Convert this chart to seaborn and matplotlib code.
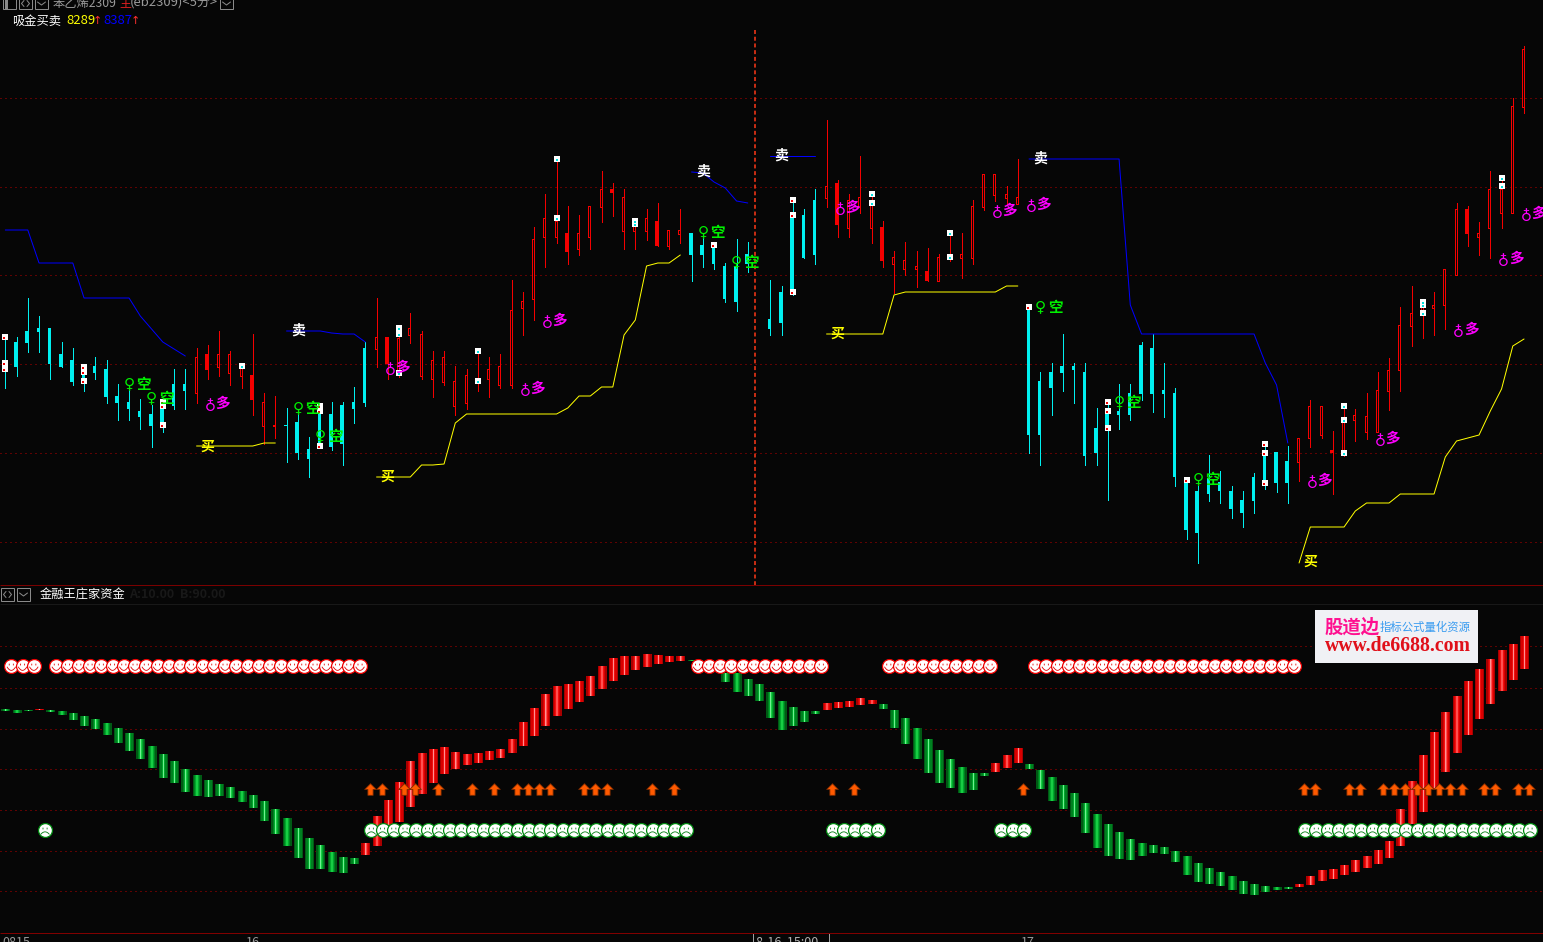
import numpy as np
import pandas as pd
import matplotlib
matplotlib.use("Agg")
import matplotlib.pyplot as plt
from matplotlib.path import Path
from matplotlib.patches import Rectangle
import seaborn as sns

# ---- values (vertical unit: chart rows, axis runs downward) ----
candle_high = [340,337,298,316,328,342,348,368,357,360,384,387,399,405,402,369,369,348,345,331,351,366,334,393,396,408,410,437,405,402,402,387,342,
    298,337,335,313,331,351,351,366,369,352,357,354,280,292,227,194,160,206,215,206,171,183,189,223,209,203,230,209,233,233,245,263,239,242,np.nan,
    280,286,200,209,189,120,180,194,156,197,221,251,242,251,248,254,236,233,200,174,174,186,159,307,372,363,334,363,363,408,403,384,384,342,334,363,388,480,486,455,471,486,491,473,445,452,446,
    438,400,406,431,408,409,393,372,358,307,286,303,292,269,203,206,222,171,181,98,46]
candle_low = [388,376,352,352,379,367,385,391,379,403,420,420,429,447,432,409,409,403,379,376,385,388,415,444,438,462,459,477,448,450,465,423,406,
    367,379,377,343,379,397,385,415,409,391,397,388,388,335,320,267,243,264,255,249,222,216,249,249,240,246,249,243,281,267,269,302,311,272,np.nan,
    335,335,295,258,264,207,237,237,213,243,267,293,275,287,281,281,261,278,264,210,201,205,204,453,465,415,391,403,465,465,500,429,420,400,412,417,486,539,563,501,503,518,527,513,489,492,503,
    481,447,438,494,456,441,439,432,410,391,346,338,335,329,275,246,255,258,228,213,113]
body_top = [363,342,331,328,328,354,360,372,366,369,396,402,411,414,405,384,384,357,354,354,354,366,375,402,425,425,422,449,414,414,405,402,348,
    337,337,338,328,334,360,357,381,375,381,369,366,310,301,239,218,221,233,233,206,189,189,197,225,218,221,230,230,233,245,245,266,266,254,np.nan,
    319,292,215,215,200,186,183,200,197,203,227,257,260,266,271,257,257,254,206,174,174,194,197,308,381,372,366,366,372,428,412,411,393,345,348,390,393,480,491,478,482,491,500,477,452,452,461,
    438,406,406,450,420,415,416,390,370,325,313,305,305,269,209,209,233,189,189,106,49]
body_bot = [372,367,343,332,364,367,382,384,373,397,403,409,417,426,423,406,391,393,370,367,373,376,400,426,426,426,453,459,444,447,444,409,403,
    349,364,372,335,376,379,382,406,403,383,379,385,385,308,299,237,237,252,249,237,207,193,231,231,231,246,246,234,255,255,264,299,302,264,np.nan,
    329,323,290,258,255,198,225,228,207,228,261,264,269,269,281,281,259,258,258,207,195,198,204,435,435,388,373,370,456,453,428,415,415,394,394,394,477,530,533,494,491,509,513,501,481,483,483,
    462,438,435,453,453,420,432,432,391,370,326,311,308,305,275,234,237,228,213,213,107]
cyan_ranges = [(0,16),(25,32),(61,66),(68,72),(91,114)]
red_solid_bars = [18,22,34,50,54,58,74,78,82,118,130]

osc_top = [709,710,710,709,710,711,713,716,719,723,728,733,739,746,754,761,769,775,780,784,787,791,795,801,809,818,828,838,845,852,857,858,
    843,816,800,782,761,753,749,747,752,754,753,751,749,739,722,708,694,686,684,681,676,666,658,656,656,654,655,656,656,
    660,661,663,673,673,679,684,692,701,707,711,711,703,702,701,698,700,704,710,718,728,739,750,759,767,773,773,
    763,755,748,764,770,777,785,793,803,814,824,832,839,843,845,847,851,856,863,868,872,876,881,884,886,887,887,
    884,876,870,869,865,860,856,850,841,809,781,755,732,712,696,681,669,659,650,644,636]
osc_bot = [711,713,711,710,712,715,720,726,729,735,743,751,759,768,778,783,792,796,797,796,798,802,808,821,834,846,858,869,869,872,873,864,
    855,846,825,822,807,794,783,774,769,765,763,760,758,753,746,736,726,716,709,702,696,689,681,675,670,667,664,662,661,
    661,664,669,682,692,696,701,718,730,726,722,714,710,708,707,705,704,709,728,744,759,773,783,788,793,790,776,
    772,768,763,769,789,801,809,817,833,848,856,859,860,856,853,854,862,875,882,884,886,890,894,895,892,890,889,
    887,885,881,879,875,872,868,864,858,846,824,812,789,772,753,735,719,704,691,680,669]
osc_red_ranges = [(3,3),(32,60),(73,77),(88,90),(115,135)]

smile_ranges = [(0,2),(4,31),(61,72),(78,87),(91,114)]
frown_ranges = [(3,3),(32,60),(73,77),(88,90),(115,135)]
arrow_bars = [32,33,35,36,38,41,43,45,46,47,48,51,52,53,57,59,73,75,90,115,116,119,120,122,123,124,125,126,127,128,129,131,132,134,135]

blue_segments = {
    0:  [230,230,230,263,263,263,263,298,298,298,298,298,316,329,342,349,356],
    25: [331,331,331,331,333,334,334,342],
    61: [172,173,182,188,201,203],
    68: [156,156,156,156,156],
    91: [159]*9 + [305] + [334]*11 + [363,385,443],
}
yellow_segments = {
    17:  [446]*6 + [443,443],
    33:  [477]*4 + [465,465,464,423] + [414]*9 + [408,396,396,387,387,335,320,266,263,263,255],
    73:  [334]*6 + [295] + [292]*9 + [286,286],
    115: [563] + [527]*4 + [511,503,503,503,494,494,494,494,457,441,438,435,411,389,346,339],
}
sell_bars, sell_vals = [26,62,69,92], [331,172,156,159]
buy_bars, buy_vals = [18,34,74,116], [447,477,334,562]
short_bars = [11,13,26,28,62,65,92,99,106]
short_vals = [384,398,408,436,232,262,307,402,479]
long_bars = [18,34,46,48,74,88,91,116,122,129,133,135]
long_vals = [403,367,388,320,207,210,204,480,438,329,258,213]
dot_bars_cyan = [0,0,0,7,7,7,14,14,14,28,28,28,63,70,70,70,91,98,98,98,105,112,112,112]
dot_vals_cyan = [337,363,369,367,372,381,402,406,425,406,411,446,245,200,215,292,307,402,411,428,480,444,453,483]
dot_bars_red = [21,35,35,35,42,42,49,49,56,56,77,77,84,84,119,119,119,126,126,126,133,133]
dot_vals_red = [366,328,334,373,351,381,159,218,221,224,194,203,233,257,406,420,453,302,305,313,178,186]
grid_upper = [97.7,186.5,275,363.5,452.7,541.7]
grid_lower = [645.7,687.7,728.7,769.3,810.3,851.3,891.3]
cursor_bar = 66.64
time_labels = ["0815","16","17"]
header_values = ["8289","8387"]

# ---- layout ----
W, H = 1543, 942
SPLIT = 585
BG = "#060606"
BAR = 11.25                 # pixels per bar
PX = 1 / BAR
X0 = -5.3 / BAR
X1 = (W - 5.3) / BAR
LW = 0.72

sns.set_theme(style="dark", rc={"axes.facecolor": BG, "figure.facecolor": BG, "savefig.facecolor": BG})
CJK = ["Noto Sans CJK SC", "DejaVu Sans"]
plt.rcParams["font.family"] = CJK

fig = plt.figure(figsize=(W / 100, H / 100), dpi=100)
ax = fig.add_axes([0, (H - SPLIT) / H, 1, SPLIT / H])
ax2 = fig.add_axes([0, 0, 1, (H - SPLIT) / H])
chrome = fig.add_axes([0, 0, 1, 1], facecolor="none")
chrome.set_xlim(0, W); chrome.set_ylim(H, 0); chrome.axis("off")

ax.set_xlim(X0, X1); ax.set_ylim(SPLIT, 0)
ax2.set_xlim(X0, X1); ax2.set_ylim(H, SPLIT)
for a in (ax, ax2):
    a.set_xticks([]); a.set_yticks([]); a.grid(False)
    for s in a.spines.values():
        s.set_visible(False)

dots = (0, (1, 4))
ax.hlines(grid_upper, X0, X1, colors="#b80000", linewidth=LW, linestyles=[dots], zorder=1)
ax2.hlines(grid_lower, X0, X1, colors="#b80000", linewidth=LW, linestyles=[dots], zorder=1)
ax.vlines([cursor_bar], 30, SPLIT, colors="#ff3818", linewidth=1.1, linestyles=[(0, (2.6, 1.8))], zorder=2)

# ---- candles ----
bars = np.arange(136)
hi, lo, bt, bb = map(lambda v: np.array(v, float), (candle_high, candle_low, body_top, body_bot))
kind = np.array(["h"] * 136)
for a, b in cyan_ranges:
    kind[a:b + 1] = "c"
kind[red_solid_bars] = "s"
col = np.where(kind == "c", "#00f0f0", "#f40000")
ok = ~np.isnan(hi)
solid = ok & (kind != "h")
ax.bar(bars[solid] - PX, (bb - bt)[solid], bottom=bt[solid], width=3 * PX, color=col[solid],
       linewidth=0, antialiased=False, zorder=4)
hol = ok & (kind == "h")
ax.bar(bars[hol] - PX, (bb - bt)[hol], bottom=bt[hol], width=2 * PX, facecolor=BG, edgecolor="#f40000",
       linewidth=LW, antialiased=False, zorder=3)
ax.vlines(bars[ok], hi[ok], lo[ok], colors=col[ok], linewidth=LW, antialiased=False, zorder=4)

# ---- small white signal squares ----
ax.scatter(np.array(dot_bars_cyan), dot_vals_cyan, marker="s", s=14, c="white", linewidths=0, zorder=5)
ax.scatter(np.array(dot_bars_cyan) - PX, np.array(dot_vals_cyan) + 1.2, marker="s", s=3, c="#f00000", linewidths=0, zorder=6)
ax.scatter(np.array(dot_bars_red), dot_vals_red, marker="s", s=14, c="white", linewidths=0, zorder=5)
ax.scatter(np.array(dot_bars_red), np.array(dot_vals_red) + 1.2, marker="s", s=3, c="#00e0e0", linewidths=0, zorder=6)

# ---- stop lines ----
def seg_frame(segments):
    rows = []
    for start, vals in segments.items():
        for k, v in enumerate(vals):
            rows.append({"bar": start + k, "val": v, "seg": start})
    return pd.DataFrame(rows)

sns.lineplot(data=seg_frame(blue_segments), x="bar", y="val", units="seg", estimator=None, color="#0000ff",
             linewidth=LW, ax=ax, legend=False, zorder=5)
sns.lineplot(data=seg_frame(yellow_segments), x="bar", y="val", units="seg", estimator=None, color="#ffff00",
             linewidth=LW, ax=ax, legend=False, zorder=5)
ax.set_xlim(X0, X1); ax.set_ylim(SPLIT, 0); ax.set_xlabel(""); ax.set_ylabel("")

# ---- signal glyphs ----
for b, v in zip(sell_bars, sell_vals):
    ax.text(b, v, "卖", color="white", fontsize=10, fontweight="bold", ha="center", va="center", zorder=7)
for b, v in zip(buy_bars, buy_vals):
    ax.text(b, v, "买", color="#ffff00", fontsize=10, fontweight="bold", ha="center", va="center", zorder=7)
for b, v in zip(short_bars, short_vals):
    ax.text(b, v, "♀", color="#00f000", fontsize=11, family=["DejaVu Sans"], fontweight="bold", ha="center", va="center", zorder=7)
    ax.annotate("空", (b, v), xytext=(10.6, 0), textcoords="offset points", color="#00f000", fontsize=10.5,
                fontweight="bold", ha="center", va="center", zorder=7)
for b, v in zip(long_bars, long_vals):
    ax.text(b, v, "♀", color="#ff00ff", fontsize=11, family=["DejaVu Sans"], fontweight="bold", rotation=180,
            rotation_mode="anchor", ha="center", va="center", zorder=7)
    ax.annotate("多", (b, v), xytext=(10.6, 0), textcoords="offset points", color="#ff00ff", fontsize=10.5,
                fontweight="bold", ha="center", va="center", zorder=7)

# ---- oscillator bars with a bright central stripe ----
ot, ob = np.array(osc_top, float), np.array(osc_bot, float)
up = np.zeros(136, bool)
for a, b in osc_red_ranges:
    up[a:b + 1] = True
RED_L = ["#a80000", "#d80000", "#f01010", "#ff5050", "#ff9090"]
GRN_L = ["#005a14", "#007f20", "#00a82c", "#18cc44", "#70f090"]
WIDTHS = [9, 6.5, 3.5, 1.6, 0.7]
for w, cr, cg in zip(WIDTHS, RED_L, GRN_L):
    ax2.bar(bars[up] + 0.5 * PX, (ob - ot)[up], bottom=ot[up], width=w * PX, color=cr, linewidth=0, zorder=3)
    ax2.bar(bars[~up] + 0.5 * PX, (ob - ot)[~up], bottom=ot[~up], width=w * PX, color=cg, linewidth=0, zorder=3)

# ---- arrows ----
arrow = Path([(0, 1), (1, 0), (0.45, 0), (0.45, -1), (-0.45, -1), (-0.45, 0), (-1, 0), (0, 1)], closed=True)
ax2.scatter(np.array(arrow_bars) + 5 * PX, [789] * len(arrow_bars), marker=arrow, s=70, c="#ff5a00",
            edgecolors="#7a2a00", linewidths=0.6, zorder=4)

# ---- faces ----
def expand(ranges):
    return np.concatenate([np.arange(a, b + 1) for a, b in ranges])

t = np.linspace(-0.6, 0.6, 9)
eyes = [(-0.28, 0.32), (-0.28, 0.08), (0.28, 0.32), (0.28, 0.08)]
eye_codes = [Path.MOVETO, Path.LINETO, Path.MOVETO, Path.LINETO]
smile_v = eyes + [(x, -0.1 - 0.5 * (1 - (x / 0.6) ** 2)) for x in t]
frown_v = eyes + [(x, -0.6 + 0.35 * (1 - (x / 0.6) ** 2)) for x in t]
curve_codes = [Path.MOVETO] + [Path.LINETO] * 8
smile_m = Path(smile_v, eye_codes + curve_codes)
frown_m = Path(frown_v, eye_codes + curve_codes)

sx = expand(smile_ranges) + 6 * PX
fx = expand(frown_ranges) + 6 * PX
ax2.scatter(sx, [666] * len(sx), s=100, c="white", edgecolors="#f00000", linewidths=0.9, zorder=6)
ax2.scatter(sx, [666] * len(sx), marker=smile_m, s=40, facecolors="none", edgecolors="#e00000", linewidths=0.6, zorder=7)
ax2.scatter(fx, [830] * len(fx), s=100, c="white", edgecolors="#008a10", linewidths=0.9, zorder=6)
ax2.scatter(fx, [830] * len(fx), marker=frown_m, s=40, facecolors="none", edgecolors="#007a10", linewidths=0.6, zorder=7)

# ---- window chrome ----
GR = "#9a9a9a"
def rule(y, c):
    chrome.hlines(y, 0, W, colors=c, linewidth=LW)
rule(585, "#7a0000"); rule(604, "#181818"); rule(933, "#800000")

def button(x0, y0, h, glyph):
    chrome.add_patch(Rectangle((x0, y0), 13, h, fill=False, ec="#8a8a8a", lw=LW))
    cx, cy = x0 + 6.5, y0 + h / 2
    if glyph == "v":
        chrome.plot([cx - 4, cx, cx + 4], [cy - 1.5, cy + 1.5, cy - 1.5], color="#8a8a8a", lw=LW)
    elif glyph == "lr":
        chrome.plot([cx - 1.5, cx - 4, cx - 1.5], [cy - 3, cy, cy + 3], color="#8a8a8a", lw=LW)
        chrome.plot([cx + 1.5, cx + 4, cx + 1.5], [cy - 3, cy, cy + 3], color="#8a8a8a", lw=LW)
    elif glyph == "bar":
        chrome.add_patch(Rectangle((x0 + 2, y0), 3, h, fc="#8a8a8a", ec="none"))

button(3, -2, 11, "bar"); button(19, -2, 11, "lr"); button(35, -2, 11, "v"); button(220, -2, 11, "v")
button(1, 588, 13, "lr"); button(17, 588, 13, "v")
chrome.set_xlim(0, W); chrome.set_ylim(H, 0)

chrome.text(53, 10, "苯乙烯2309", color=GR, fontsize=8.8, va="bottom", ha="left")
chrome.text(119, 10, "主", color="#e02020", fontsize=8.6, va="bottom", ha="left")
chrome.text(130, 10, "(eb2309)<5分>", color=GR, fontsize=9.4, va="bottom", ha="left")
chrome.text(12.5, 21, "吸金买卖", color="white", fontsize=8.8, va="center", ha="left")
chrome.text(66, 21, header_values[0], color="#ffff00", fontsize=9.4, va="center", ha="left")
chrome.text(92.5, 21, "↑", color="#ff3030", fontsize=8, va="center", ha="left", family=["DejaVu Sans"])
chrome.text(103, 21, header_values[1], color="#0000ff", fontsize=9.4, va="center", ha="left")
chrome.text(130.5, 21, "↑", color="#ff3030", fontsize=8, va="center", ha="left", family=["DejaVu Sans"])
chrome.text(40, 595, "金融王庄家资金", color="white", fontsize=8.8, va="center", ha="left")
chrome.text(129, 595, "A:10.00  B:90.00", color="#181818", fontsize=9, fontweight="bold", va="center", ha="left")
chrome.text(2, 936, time_labels[0], color=GR, fontsize=9, va="top", ha="left")
chrome.text(246, 936, time_labels[1], color=GR, fontsize=9, va="top", ha="left")
chrome.text(1021, 936, time_labels[2], color=GR, fontsize=9, va="top", ha="left")
chrome.add_patch(Rectangle((753, 933), 76, 12, fc=BG, ec="#a0a0a0", lw=LW))
chrome.text(756, 936, "8-16  15:00", color="#b0b0b0", fontsize=9, va="top", ha="left")

chrome.add_patch(Rectangle((1315, 610), 163, 53, fc="#f0f1f5", ec="none", zorder=8))
chrome.text(1324, 627, "股道边", color="#ff1090", fontsize=13.2, fontweight="bold", va="center", ha="left", zorder=9)
chrome.text(1380, 627, "指标公式量化资源", color="#3a9cf0", fontsize=8.2, va="center", ha="left", zorder=9)
chrome.text(1397.5, 646, "www.de6688.com", color="#e0101a", fontsize=14.2, fontweight="bold",
            family=["Liberation Serif"], va="center", ha="center", zorder=9)

fig.savefig("out.png", dpi=100, facecolor=BG)
